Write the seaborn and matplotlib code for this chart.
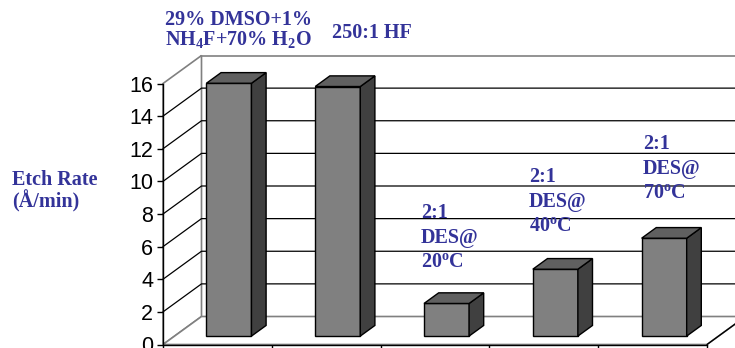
import matplotlib
matplotlib.use("Agg")
import matplotlib.pyplot as plt
import matplotlib.transforms as mtransforms
from matplotlib.patches import Polygon
import numpy as np
import pandas as pd
import seaborn as sns

# Etch rate of each etchant (Å/min)
categories = ["29% DMSO+1% NH4F+70% H2O", "250:1 HF", "2:1 DES@20C", "2:1 DES@40C", "2:1 DES@70C"]
etch_rates = [15.5, 15.3, 2.0, 4.1, 6.0]
y_ticks = [0, 2, 4, 6, 8, 10, 12, 14, 16]

# Text drawn over the chart
hf_label = "250:1 HF"
dmso_label = ["29% DMSO+1%", r"NH$_{4}$F+70% H$_{2}$O"]
des_labels = [
    ["2:1", "DES@", r"20$^{\mathrm{o}}$C"],
    ["2:1", "DES@", r"40$^{\mathrm{o}}$C"],
    ["2:1", "DES@", r"70$^{\mathrm{o}}$C"],
]
y_title = ["Etch Rate", "(Å/min)"]

W, H = 735, 348
TEXT_BLUE = "#333399"

sns.set_style("white")
plt.rcParams["font.family"] = ["Liberation Sans", "DejaVu Sans"]
plt.rcParams["mathtext.fontset"] = "custom"
plt.rcParams["mathtext.rm"] = "Liberation Serif:bold"
plt.rcParams["mathtext.it"] = "Liberation Serif:bold"
plt.rcParams["mathtext.bf"] = "Liberation Serif:bold"

fig = plt.figure(figsize=(W / 100, H / 100), dpi=100)
fig.patch.set_facecolor("white")
# the axes frame is the front plane of the floor
ax = fig.add_axes([163 / W, (H - 344.5) / H, 544 / W, 261 / H])
ax.patch.set_alpha(0)

df = pd.DataFrame({"etchant": categories, "rate": etch_rates})
sns.barplot(data=df, x="etchant", y="rate", ax=ax, color="#808080",
            saturation=1, width=0.414, edgecolor="black", linewidth=1.0,
            errorbar=None, zorder=3)
ax.set_xlim(-0.5, 4.5)
ax.set_ylim(0, 16)

# oblique depth projection (z = 0 front, z = 1 back wall)
DX = 38.5 / 108.8
DY = 28.0 / 16.3125
Z0, Z1 = 0.30, 0.68


def proj(x, v, z):
    return (x + z * DX, v + z * DY)


x_lo, x_hi = -0.5, 4.5
v_top = y_ticks[-1]
wall_kw = dict(closed=True, facecolor="white", edgecolor="#808080",
               linewidth=1.2, zorder=0.5, clip_on=False)
ax.add_patch(Polygon([proj(x_lo, 0, 1), proj(x_hi, 0, 1),
                      proj(x_hi, v_top, 1), proj(x_lo, v_top, 1)], **wall_kw))
ax.add_patch(Polygon([proj(x_lo, 0, 0), proj(x_lo, v_top, 0),
                      proj(x_lo, v_top, 1), proj(x_lo, 0, 1)], **wall_kw))
ax.add_patch(Polygon([proj(x_lo, 0, 0), proj(x_hi, 0, 0),
                      proj(x_hi, 0, 1), proj(x_lo, 0, 1)], **wall_kw))
# right edge of the floor
ax.plot(*zip(proj(x_hi, 0, 0), proj(x_hi, 0, 1)), color="black", lw=1.0,
        zorder=0.8, clip_on=False)

# gridlines on the side and back walls
for v in y_ticks[1:-1]:
    pts = [proj(x_lo, v, 0), proj(x_lo, v, 1), proj(x_hi, v, 1)]
    ax.plot(*zip(*pts), color="black", lw=0.9, zorder=0.8, clip_on=False)

# push the bar fronts back into the floor and add side and top faces
shift = mtransforms.Affine2D().translate(*proj(0, 0, Z0)) + ax.transData
for p in list(ax.patches):
    if p.get_zorder() != 3:
        continue
    p.set_transform(shift)
    p.set_clip_on(False)
    x0, w, h = p.get_x(), p.get_width(), p.get_height()
    side = [proj(x0 + w, 0, Z0), proj(x0 + w, h, Z0),
            proj(x0 + w, h, Z1), proj(x0 + w, 0, Z1)]
    top = [proj(x0, h, Z0), proj(x0 + w, h, Z0),
           proj(x0 + w, h, Z1), proj(x0, h, Z1)]
    ax.add_patch(Polygon(side, closed=True, facecolor="#404040",
                         edgecolor="black", linewidth=1.0, zorder=3,
                         clip_on=False))
    ax.add_patch(Polygon(top, closed=True, facecolor="#606060",
                         edgecolor="black", linewidth=1.0, zorder=3,
                         clip_on=False))

# axes: value axis on the left, category dividers along the floor
for s in ("top", "right"):
    ax.spines[s].set_visible(False)
for s in ("left", "bottom"):
    ax.spines[s].set_visible(True)
    ax.spines[s].set_color("black")
    ax.spines[s].set_linewidth(1.0)
    ax.spines[s].set_zorder(1)
ax.set_yticks(y_ticks)
ax.tick_params(axis="y", left=True, length=4, width=1, pad=3,
               labelsize=15.5, colors="black", direction="out")
ax.set_xticks([])
ax.set_xticks(np.arange(x_lo, x_hi + 0.5, 1.0), minor=True)
ax.tick_params(axis="x", which="minor", bottom=True, length=8, width=1,
               color="black", direction="out")
ax.set_xlabel("")
ax.set_ylabel("")

# text labels (positions in figure pixels)
txt_kw = dict(fontfamily="Liberation Serif", fontweight="bold",
              fontsize=14.5, color=TEXT_BLUE, ha="left", va="baseline")


def ftext(px, py, s, **kw):
    fig.text(px / W, 1 - py / H, s, **{**txt_kw, **kw})


ftext(165, 25, dmso_label[0])
ftext(165, 45, dmso_label[1])
ftext(332, 38, hf_label)

des_pos = [(421, 218), (529, 182), (643, 149)]
for (px, py), lines in zip(des_pos, des_labels):
    for k, line in enumerate(lines):
        ftext(px, py + 24.7 * k, line)

ftext(12, 185, y_title[0])
ftext(12, 207, y_title[1])

fig.savefig("out.png", dpi=100, facecolor="white")
